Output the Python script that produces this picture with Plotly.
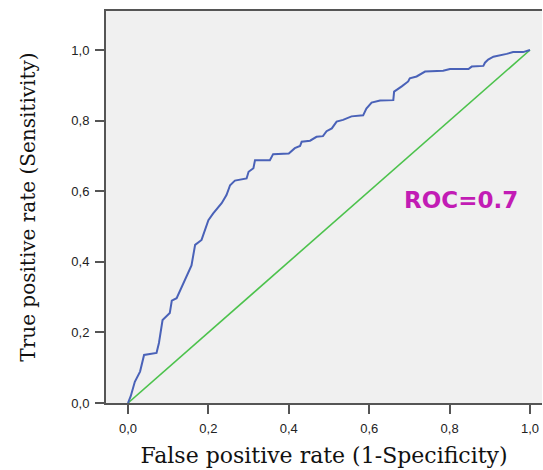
import plotly.graph_objects as go

fpr = [0, 0.007, 0.017, 0.03, 0.04, 0.071, 0.077, 0.086, 0.104, 0.109, 0.121, 0.146,
       0.158, 0.167, 0.183, 0.2, 0.212, 0.233, 0.245, 0.254, 0.266, 0.295, 0.3, 0.312,
       0.316, 0.353, 0.361, 0.4, 0.415, 0.428, 0.432, 0.453, 0.469, 0.485, 0.494, 0.507,
       0.519, 0.535, 0.556, 0.585, 0.593, 0.606, 0.627, 0.66, 0.662, 0.681, 0.697, 0.701,
       0.718, 0.739, 0.784, 0.801, 0.847, 0.855, 0.884, 0.888, 0.896, 0.909, 0.925, 0.942,
       0.958, 0.983, 1.0]
tpr = [0, 0.02, 0.06, 0.089, 0.136, 0.142, 0.17, 0.235, 0.255, 0.29, 0.297, 0.358,
       0.39, 0.448, 0.462, 0.518, 0.537, 0.566, 0.589, 0.617, 0.63, 0.636, 0.655, 0.665,
       0.688, 0.688, 0.705, 0.707, 0.722, 0.728, 0.74, 0.743, 0.754, 0.756, 0.77, 0.778,
       0.797, 0.802, 0.812, 0.815, 0.834, 0.851, 0.857, 0.858, 0.882, 0.897, 0.911, 0.92,
       0.925, 0.939, 0.941, 0.946, 0.946, 0.953, 0.955, 0.964, 0.973, 0.981, 0.984, 0.989,
       0.994, 0.994, 1.0]
ref_x = [0, 1]
ref_y = [0, 1]
tick_vals = [0, 0.2, 0.4, 0.6, 0.8, 1.0]
tick_text = ["0,0", "0,2", "0,4", "0,6", "0,8", "1,0"]
x_title = "False positive rate (1-Specificity)"
y_title = "True positive rate (Sensitivity)"
roc_label = "ROC=0.7"

fig = go.Figure()
fig.add_trace(go.Scatter(x=ref_x, y=ref_y, mode="lines",
                         line=dict(color="#4cc24c", width=1.6), showlegend=False))
fig.add_trace(go.Scatter(x=fpr, y=tpr, mode="lines",
                         line=dict(color="#4a62b8", width=2), showlegend=False))

axis_common = dict(
    tickvals=tick_vals, ticktext=tick_text, ticks="outside", ticklen=9, tickwidth=1.5,
    tickcolor="#555", showline=True, linecolor="#555", linewidth=2, showgrid=False,
    zeroline=False, ticklabelstandoff=3,
    tickfont=dict(family="Liberation Sans, Arial", size=13, color="#222"),
)

fig.update_layout(
    width=543, height=470,
    margin=dict(l=106, r=1, t=11, b=67),
    paper_bgcolor="white", plot_bgcolor="#f0f0f0",
    xaxis=dict(range=[-0.0547, 1.0299], mirror=True,
               title=dict(text=x_title, standoff=13,
                          font=dict(family="DejaVu Serif", size=22, color="#111")),
               **axis_common),
    yaxis=dict(range=[0, 1.1105],
               title=dict(text=y_title, standoff=30,
                          font=dict(family="DejaVu Serif", size=20, color="#111")),
               **axis_common),
    annotations=[dict(x=0.975, y=0.575, xref="x", yref="y", text=roc_label, showarrow=False,
                      xanchor="right", yanchor="middle",
                      font=dict(family="DejaVu Sans", size=23, color="#c21cb5", weight="bold"))],
)

fig.write_html("out.html")
